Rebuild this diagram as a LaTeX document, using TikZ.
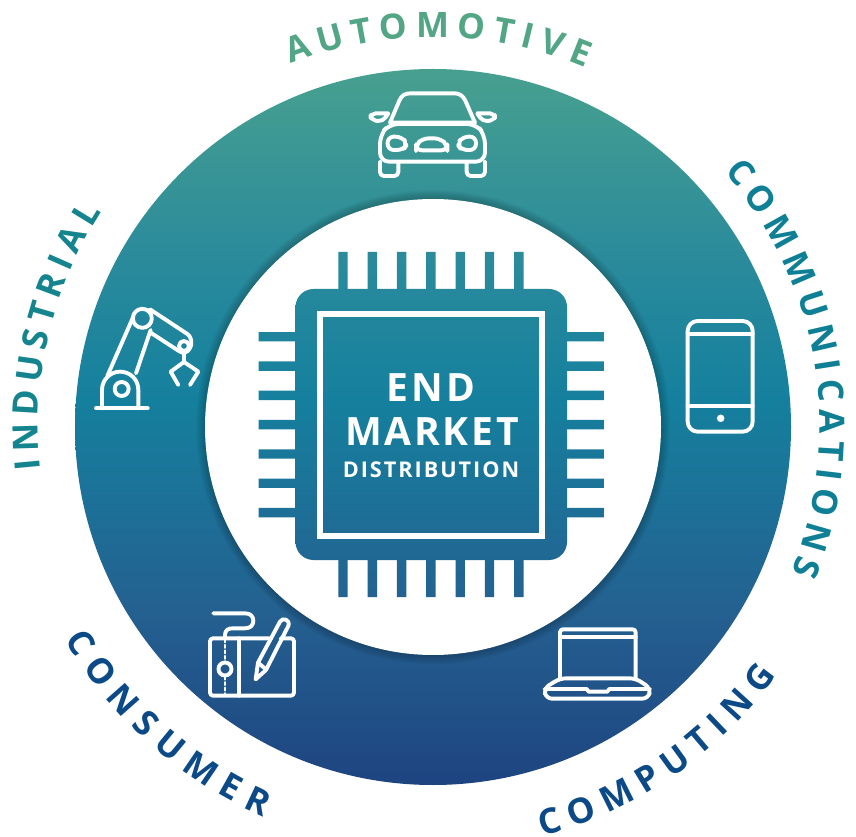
\documentclass[tikz,border=0pt]{standalone}
\usepackage{fontspec}
\setmainfont{Open Sans}
\usepackage{xcolor}
\usetikzlibrary{calc}
\usetikzlibrary{decorations.text}
\definecolor{autocol}{HTML}{52A585}
\definecolor{commcol}{HTML}{0E7F95}
\definecolor{indcol}{HTML}{14848F}
\definecolor{conscol}{HTML}{0C4A87}
\definecolor{gradtop}{HTML}{47A08F}
\definecolor{gradupper}{HTML}{2B8B9B}
\definecolor{gradmid}{HTML}{15809E}
\definecolor{gradlow}{HTML}{246090}
\definecolor{gradbot}{HTML}{1E4480}
\pgfdeclareverticalshading{ringgrad}{100bp}{color(0bp)=(gradbot); color(25bp)=(gradbot); color(37bp)=(gradlow); color(52bp)=(gradmid); color(62bp)=(gradupper); color(75bp)=(gradtop); color(100bp)=(gradtop)}
\newcommand{\ringfont}{\fontsize{35}{38}\selectfont\bfseries}
\tikzset{
	icon/.style={draw=white, line width=3.9pt, line join=round, line cap=round},
	ringtext/.style n args={2}{decorate, decoration={text along path, text align={fit to path}, text color=#1, text={|\ringfont|#2}}},
	chiptext/.style={text=white, font=\bfseries, inner sep=0pt}
}

\begin{document}
\begin{tikzpicture}[x=1pt, y=1pt]
	\useasboundingbox (0,0) rectangle (856,836);
	\coordinate (ctr) at (433,409);
	
	% Ring
	\begin{scope}
		\clip (ctr) circle (358pt);
		\shade[shading=ringgrad] (75,51) rectangle (791,767);
		\foreach \r in {1,...,9}
		\fill[black, opacity=0.022] (ctr) circle ({228+\r});
	\end{scope}
	\fill[white] (ctr) circle (228pt);
	
	% Chip with pins
	\begin{scope}
		\clip[rounded corners=18pt] (295.5,276) rectangle (567,547);
		\shade[shading=ringgrad] (75,51) rectangle (791,767);
	\end{scope}
	\begin{scope}
		\clip
		(338.3,239) rectangle ++(9.4,345) (367.6,239) rectangle ++(9.4,345)
		(396.9,239) rectangle ++(9.4,345) (426.2,239) rectangle ++(9.4,345)
		(455.5,239) rectangle ++(9.4,345) (484.8,239) rectangle ++(9.4,345)
		(514.1,239) rectangle ++(9.4,345)
		(258.7,318.7) rectangle ++(345.3,9.4) (258.7,348) rectangle ++(345.3,9.4)
		(258.7,377.3) rectangle ++(345.3,9.4) (258.7,406.6) rectangle ++(345.3,9.4)
		(258.7,435.9) rectangle ++(345.3,9.4) (258.7,465.2) rectangle ++(345.3,9.4)
		(258.7,494.5) rectangle ++(345.3,9.4);
		\shade[shading=ringgrad] (75,51) rectangle (791,767);
	\end{scope}
	\draw[white, line width=5.6pt] (319.8,299.8) rectangle (542.2,522.2);
	
	\node (endtxt) [chiptext, font=\fontsize{39}{41}\selectfont\bfseries\addfontfeature{LetterSpace=9}] at (431,448) {END};
	\node (markettxt) [chiptext, font=\fontsize{39}{41}\selectfont\bfseries\addfontfeature{LetterSpace=7}] at (432,404) {MARKET};
	\node (disttxt) [chiptext, font=\fontsize{21.7}{24}\selectfont\bfseries\addfontfeature{LetterSpace=9}] at (431,366) {DISTRIBUTION};
	
	% Labels round the ring
	\begin{scope}[shift={(ctr)}]
		\path[ringtext={autocol}{AUTOMOTIVE}] (111.5:390) arc [start angle=111.5, end angle=67, radius=390];
		\path[ringtext={commcol}{COMMUNICATIONS}] (41.2:387) arc [start angle=41.2, end angle=-22, radius=387];
		\path[ringtext={indcol}{INDUSTRIAL}] (186.2:395) arc [start angle=186.2, end angle=147, radius=395];
		\path[ringtext={conscol}{CONSUMER}] (210:425) arc [start angle=210, end angle=246.5, radius=425];
		\path[ringtext={conscol}{COMPUTING}] (-75:424) arc [start angle=-75, end angle=-35.8, radius=424];
	\end{scope}
	
	% Car
	\begin{scope}[shift={(340,766)}, x=0.3333pt, y=-0.3333pt]
		\draw[icon] (150,158) -- (178,92) .. controls (185,76) and (195,70) .. (212,70) -- (342,70) .. controls (358,70) and (368,76) .. (376,92) -- (405,158) -- cycle;
		\draw[icon, rounded corners=9pt] (148,162) -- (408,162) -- (435,195) -- (435,275) -- (120,275) -- (120,195) -- cycle;
		\draw[icon, rounded corners=4pt] (120,275) -- (120,318) -- (175,318) -- (175,278);
		\draw[icon, rounded corners=4pt] (380,278) -- (380,318) -- (435,318) -- (435,275);
		\draw[icon, rounded corners=5pt] (145,130) -- (92,130) -- (92,150) -- (128,155) -- (145,130);
		\draw[icon, rounded corners=5pt] (412,130) -- (465,130) -- (465,150) -- (428,155) -- (412,130);
		\draw[icon, rounded corners=6pt] (143,200) -- (185,200) -- (202,222) -- (190,240) -- (143,240) -- cycle;
		\draw[icon, rounded corners=6pt] (408,200) -- (368,200) -- (352,222) -- (364,240) -- (408,240) -- cycle;
		\draw[icon, rounded corners=6pt] (228,241) -- (228,225) -- (248,205) -- (300,205) -- (322,225) -- (322,241) -- cycle;
	\end{scope}
	
	% Robot arm
	\begin{scope}[shift={(80,546)}, x=0.3333pt, y=-0.3333pt]
		\draw[icon] (48,355) -- (203,355);
		\draw[icon] (66,355) -- (66,300) .. controls (66,268) and (92,245) .. (120,245) .. controls (150,245) and (175,268) .. (175,300) -- (175,355);
		\draw[icon] (125,297) circle (7pt);
		\draw[icon] (82,258) -- (160,80);
		\draw[icon] (168,250) -- (212,120);
		\draw[icon] (187,85) circle (9.5pt);
		\draw[icon] (312,168) circle (5pt);
		\draw[icon] (210,58) -- (322,132) .. controls (340,145) and (338,178) .. (315,188) .. controls (308,190) and (302,186) .. (295,182) -- (212,128);
		\draw[icon] (312,188) -- (312,216);
		\draw[icon] (295,285) -- (272,245) -- (312,216) -- (355,245) -- (330,285);
	\end{scope}
	
	% Tablet and pen
	\begin{scope}[shift={(190,236)}, x=0.3333pt, y=-0.3333pt]
		\draw[icon, rounded corners=3pt] (238,115) -- (60,115) -- (60,287) -- (312,287) -- (312,115) -- (272,115);
		\draw[icon] (148,115) -- (148,287);
		\draw[icon, line width=2pt, dash pattern=on 3pt off 2.5pt] (105,118) -- (105,186) (105,230) -- (105,285);
		\draw[icon] (105,207) circle (6.5pt);
		\draw[icon] (105,115) -- (105,105) .. controls (105,90) and (115,85) .. (128,85) -- (165,85) .. controls (182,85) and (190,75) .. (190,62) .. controls (190,48) and (180,40) .. (165,40) -- (70,40);
		\draw[icon] (197,238) -- (204,188) -- (270,65) .. controls (278,50) and (302,60) .. (295,78) -- (228,210) -- cycle;
		\draw[icon] (204,188) -- (228,208);
	\end{scope}
	
	% Laptop
	\begin{scope}[shift={(530,216)}, x=0.3333pt, y=-0.3333pt]
		\draw[icon, rounded corners=3pt] (90,175) -- (90,28) -- (317,28) -- (317,175);
		\draw[icon] (90,50) -- (317,50);
		\draw[icon, rounded corners=6pt] (90,175) -- (42,205) -- (48,236) -- (355,236) -- (362,205) -- (317,175) -- cycle;
		\draw[icon] (44,207) -- (170,207) -- (176,215) -- (232,215) -- (238,207) -- (360,207);
	\end{scope}
	
	% Phone
	\begin{scope}[shift={(670,526)}, x=0.3333pt, y=-0.3333pt]
		\draw[icon, rounded corners=10pt] (53,33) rectangle (248,365);
		\draw[icon] (53,72) -- (248,72);
		\draw[icon] (53,288) -- (248,288);
		\fill[white] (152,325) circle (3.8pt);
	\end{scope}
\end{tikzpicture}
\end{document}
